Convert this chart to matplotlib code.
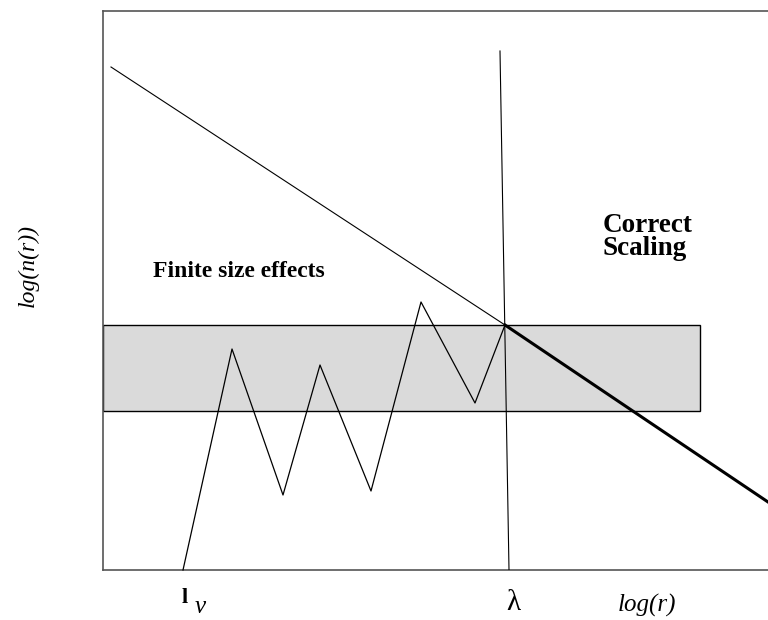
import matplotlib.pyplot as plt
from matplotlib.patches import Rectangle

# schematic coordinates (screen-like units, y grows downwards)
zig_x = [183, 232, 283, 320, 371, 421, 475, 505]
zig_y = [570, 349, 495, 365, 491, 302, 403, 325]

thin_x = [111, 505]
thin_y = [67, 325]
thick_x = [505, 768]
thick_y = [325, 502]

lam_x = [500, 509]
lam_y = [51, 570]

band_x = [102.5, 700]
band_y = [325, 411]

fig = plt.figure(figsize=(7.68, 6.2), dpi=100)
ax = fig.add_axes([102.5 / 768, (620 - 569.5) / 620, (768 - 102.5) / 768, 559 / 620])
ax.set_xlim(102.5, 768)
ax.set_ylim(569.5, 10.5)
ax.set_xticks([])
ax.set_yticks([])
ax.spines['right'].set_visible(False)
for s in ['left', 'top', 'bottom']:
    ax.spines[s].set_color('#555555')
    ax.spines[s].set_linewidth(1.2)

ax.add_patch(Rectangle((band_x[0], band_y[0]), band_x[1] - band_x[0], band_y[1] - band_y[0],
                       facecolor='#dadada', edgecolor='black', linewidth=1.0, zorder=1))

ax.plot(thin_x, thin_y, color='black', lw=0.8, zorder=3)
ax.plot(thick_x, thick_y, color='black', lw=2.2, zorder=3, clip_on=False)
ax.plot(lam_x, lam_y, color='black', lw=0.8, zorder=3)
ax.plot(zig_x, zig_y, color='black', lw=0.9, zorder=3, clip_on=False)

serif = ['Liberation Serif', 'DejaVu Serif']
ax.text(153, 277, 'Finite size effects', fontsize=17, fontweight='bold',
        family=serif, va='baseline', ha='left')
ax.text(603, 232, 'Correct', fontsize=19.5, fontweight='bold',
        family=serif, va='baseline', ha='left')
ax.text(603, 255, 'Scaling', fontsize=19.5, fontweight='bold',
        family=serif, va='baseline', ha='left')

fig.text(28 / 768, 1 - 265 / 620, 'log(n(r))', rotation=90, fontsize=17,
         style='italic', family=serif, ha='center', va='center')
fig.text(647 / 768, 1 - 605 / 620, 'log(r)', fontsize=18, style='italic',
         family=serif, ha='center', va='center')
fig.text(513 / 768, 1 - 603 / 620, 'λ', fontsize=21, family=serif,
         ha='center', va='center')
fig.text(185 / 768, 1 - 598 / 620, 'l', fontsize=16, fontweight='bold',
         family=serif, ha='center', va='center')
fig.text(200 / 768, 1 - 607 / 620, 'v', fontsize=18, style='italic',
         family=serif, ha='center', va='center')

fig.savefig('out.png', dpi=100)
